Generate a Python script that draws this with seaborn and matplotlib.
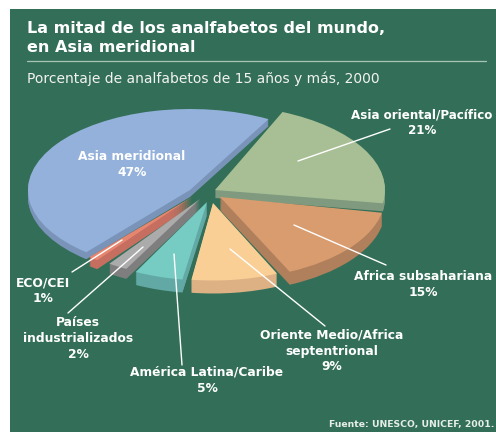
import matplotlib
matplotlib.use("Agg")
import matplotlib.pyplot as plt
from matplotlib.patches import Rectangle
import seaborn as sns

names = ["Asia meridional", "ECO/CEI", "Países\nindustrializados", "América Latina/Caribe",
         "Oriente Medio/Africa\nseptentrional", "Africa subsahariana", "Asia oriental/Pacífico"]
shares = [47, 1, 2, 5, 9, 15, 21]
tops = ["#93B1DA", "#E78670", "#ABABAB", "#76CBC3", "#F9CF96", "#D99C6F", "#A8BF95"]
sides = ["#7A93B8", "#C66F60", "#7E7E7E", "#62A9A5", "#DDB184", "#B07F5C", "#7F9A7E"]

# per-slice geometry of the exploded, tilted pie (pixels / degrees)
geom = {
    "Asia meridional": (190, 190, 162, 61, 7),
    "Asia oriental/Pacífico": (215, 190, 170, -9, 8),
    "Africa subsahariana": (220, 197, 165, -65, 13),
    "Oriente Medio/Africa\nseptentrional": (213, 203, 155, 262, 13),
    "América Latina/Caribe": (207, 202, 157, 243, 13),
    "Países\nindustrializados": (200, 199, 158, 235, 10),
    "ECO/CEI": (192, 197, 158, 229.5, 9),
}
order = ["Asia meridional", "Asia oriental/Pacífico", "Africa subsahariana",
         "ECO/CEI", "Países\nindustrializados", "América Latina/Caribe",
         "Oriente Medio/Africa\nseptentrional"]
label_pos = {
    "Asia meridional": (132, 165), "Asia oriental/Pacífico": (422, 123),
    "Africa subsahariana": (423, 285), "Oriente Medio/Africa\nseptentrional": (332, 351),
    "América Latina/Caribe": (207, 380), "Países\nindustrializados": (78, 339),
    "ECO/CEI": (43, 291),
}
leaders = [((298, 161), (390, 129)), ((294, 225), (386, 265)), ((230, 249), (325, 326)),
           ((174, 254), (182, 365)), ((143, 247), (68, 313)), ((122, 240), (72, 272))]

sns.set_theme(style="white")
plt.rcParams["font.family"] = ["DejaVu Sans"]
K = 0.5
W, H = 496, 432
fig = plt.figure(figsize=(4.96, 4.32), dpi=100, facecolor="white")
ax = fig.add_axes([0, 0, 1, 1])
Y = lambda p: (H - p) / K

ax.add_patch(Rectangle((10, 0), W - 10, Y(9), facecolor="#336F58", edgecolor="none", zorder=0))

z = 1
for n in order:
    i = names.index(n)
    cx, cy, r, start, th = geom[n]
    frac = [shares[i] / 100]
    for d in list(range(th, 0, -1)) + [0]:
        w, _ = ax.pie(frac, normalize=False, startangle=start, radius=r, center=(cx, Y(cy + d)),
                      colors=[sides[i] if d else tops[i]], wedgeprops={"linewidth": 0})
        for p in w:
            p.set_zorder(z)
    z += 1

for a, b in leaders:
    ax.plot([a[0], b[0]], [Y(a[1]), Y(b[1])], color="white", lw=1.0, zorder=50)

for n, s in zip(names, shares):
    x, y = label_pos[n]
    fs = 8.6 if n.startswith("Asia oriental") else 8.8
    ax.text(x, Y(y), f"{n}\n{s}%", color="white", fontweight="bold", fontsize=fs,
            ha="center", va="center", linespacing=1.3, zorder=60)

ax.text(27, Y(38), "La mitad de los analfabetos del mundo,\nen Asia meridional", color="white",
        fontweight="bold", fontsize=11.5, ha="left", va="center", linespacing=1.39, zorder=60)
ax.plot([27, 486], [Y(61), Y(61)], color="#A9C4B6", lw=0.9, zorder=50)
ax.text(27, Y(79), "Porcentaje de analfabetos de 15 años y más, 2000", color="#F2F2F2",
        fontsize=10.0, ha="left", va="center", zorder=60)
ax.text(494, Y(424), "Fuente: UNESCO, UNICEF, 2001.", color="#E6EEE8", fontweight="bold",
        fontsize=6.7, ha="right", va="center", zorder=60)

ax.set_xlim(0, W)
ax.set_ylim(0, H / K)
ax.set_aspect("auto")
ax.set_axis_off()
sns.despine(ax=ax, left=True, bottom=True)
fig.savefig("out.png", dpi=100, facecolor="white")
